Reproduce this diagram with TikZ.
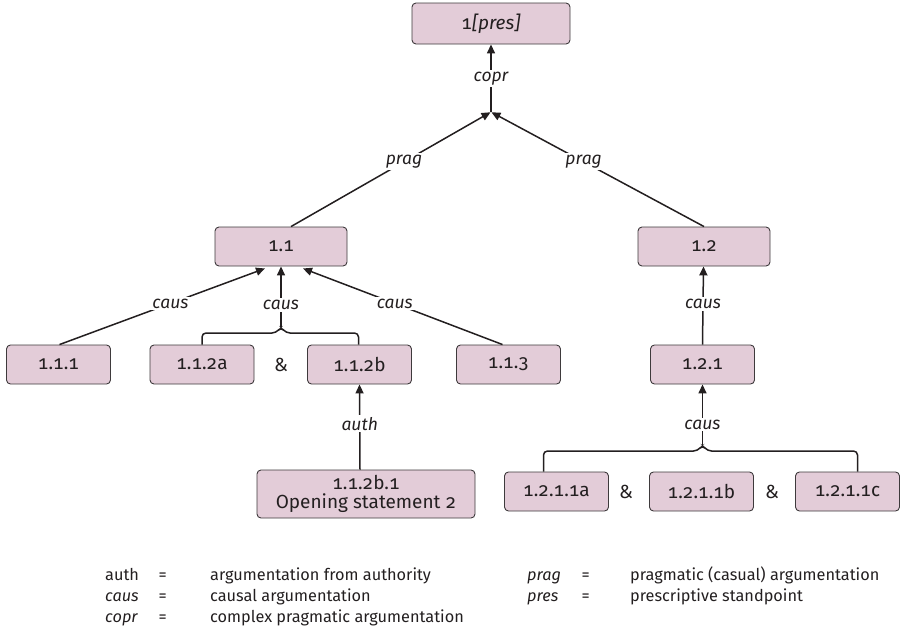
\documentclass[tikz,border=0pt]{standalone}
\usepackage{fontspec}
\setmainfont{Fira Sans}[Numbers={OldStyle,Monospaced}]
\usetikzlibrary{arrows.meta,calc}
\definecolor{boxfill}{RGB}{227,204,216}
\definecolor{boxline}{RGB}{62,58,60}
\definecolor{ink}{RGB}{35,31,32}
\begin{document}
\begin{tikzpicture}[x=1pt,y=-1pt,
  font=\fontsize{16.3}{19}\selectfont, text=ink,
  sbox/.style={draw=boxline, line width=0.9pt, fill=boxfill, rounded corners=4pt,
    minimum width=104pt, minimum height=39pt, inner sep=0pt, align=center,
    font=\fontsize{19}{21}\selectfont},
  link/.style={ink, line width=1.5pt},
  arr/.style={link, -{Triangle[length=9pt,width=8pt]}},
  lbl/.style={fill=white, inner sep=2pt, font=\fontsize{17.5}{20}\selectfont\itshape},
  amp/.style={inner sep=0pt, font=\fontsize{19}{21}\selectfont},
  legend/.style={anchor=base west, inner sep=0pt}]
\useasboundingbox (0,0) rectangle (916,635);

% boxes
\node[sbox, minimum width=158pt, minimum height=41pt] (top) at (491,23.5) {1\textit{[pres]}};
\node[sbox, minimum width=132pt] (n11) at (281,246.5) {1.1};
\node[sbox, minimum width=132pt] (n12) at (704,246.5) {1.2};
\node[sbox] (n111) at (58.5,364.5) {1.1.1};
\node[sbox] (n112a) at (202,364.5) {1.1.2a};
\node[amp] (amp1) at (281,364.5) {\&};
\node[sbox] (n112b) at (359.5,364.5) {1.1.2b};
\node[sbox] (n113) at (508.5,364.5) {1.1.3};
\node[sbox] (n121) at (702.5,364.5) {1.2.1};
\node[sbox, minimum width=218pt, minimum height=48pt] (n112b1) at (366,494)
  {1.1.2b.1\\[-2pt]Opening statement 2};
\node[sbox] (n1211a) at (556.5,491.5) {1.2.1.1a};
\node[amp] (amp2) at (626,491.5) {\&};
\node[sbox] (n1211b) at (701.5,491.5) {1.2.1.1b};
\node[amp] (amp3) at (772,491.5) {\&};
\node[sbox] (n1211c) at (847.5,491.5) {1.2.1.1c};

% complex pragmatic link into the standpoint
\coordinate (join) at (491,112);
\draw[arr] (join) -- node[lbl] {copr} (top.south);
\draw[arr, shorten >=0.5pt] ([xshift=10pt]n11.north) -- node[lbl, pos=0.565] {prag} (join);
\draw[arr, shorten >=0.5pt] (n12.north) -- node[lbl, pos=0.565] {prag} (join);

% causal support for 1.1
\draw[arr] ([xshift=1pt]n111.north) -- node[lbl, pos=0.54] {caus} ([xshift=-16pt,yshift=-2pt]n11.south);
\draw[arr] ([xshift=-6pt]n113.north) -- node[lbl, pos=0.54] {caus} ([xshift=22pt,yshift=-2pt]n11.south);
\coordinate (br1) at (281,327);
\draw[link, rounded corners=4pt] (n112a.north) |- (276,333) -- (br1) -- (286,333) -| ([xshift=-1pt]n112b.north);
\draw[arr] (br1) -- node[lbl, pos=0.36] {caus} (n11.south);

% authority support for 1.1.2b
\draw[arr] ([xshift=-6pt]n112b1.north) -- node[lbl, pos=0.54] {auth} (n112b.south);

% causal chain under 1.2
\draw[arr] (n121.north) -- node[lbl, pos=0.52] {caus} ([xshift=-0.5pt]n12.south);
\coordinate (br2) at (702.5,445);
\draw[link, rounded corners=4pt] ([xshift=-13pt]n1211a.north) |- (697.5,451) -- (br2) -- (707.5,451) -| ([xshift=10pt]n1211c.north);
\draw[arr] (br2) -- node[lbl, pos=0.34] {caus} (n121.south);

% legend
\node[legend] (la) at (105,580) {auth};
\node[legend] (lae) at (158,580) {=};
\node[legend] (lad) at (210,580) {argumentation from authority};
\node[legend] (lc) at (105,601) {\itshape caus};
\node[legend] (lce) at (158,601) {=};
\node[legend] (lcd) at (210,601) {causal argumentation};
\node[legend] (lo) at (105,622) {\itshape copr};
\node[legend] (loe) at (158,622) {=};
\node[legend] (lod) at (210,622) {complex pragmatic argumentation};
\node[legend] (lp) at (527,580) {\itshape prag};
\node[legend] (lpe) at (581,580) {=};
\node[legend] (lpd) at (630,580) {pragmatic (casual) argumentation};
\node[legend] (lr) at (527,601) {\itshape pres};
\node[legend] (lre) at (581,601) {=};
\node[legend] (lrd) at (630,601) {prescriptive standpoint};
\end{tikzpicture}
\end{document}
